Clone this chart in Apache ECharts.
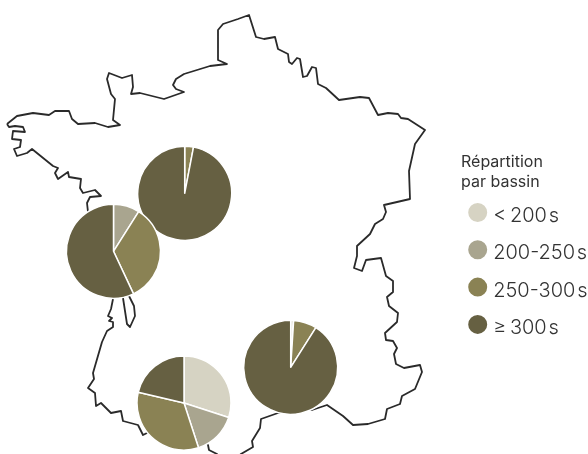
<!doctype html>
<html lang="fr">
<head>
<meta charset="utf-8" />
<title>Répartition par bassin</title>
<script src="https://cdn.jsdelivr.net/npm/echarts@6/dist/echarts.min.js"></script>
<style>
  html, body { margin: 0; padding: 0; background: #fff; }
  #main { width: 588px; height: 454px; }
</style>
</head>
<body>
<div id="main"></div>
<script>
// legend classes
var classes = ['<\u2009200\u200as', '200-250\u200as', '250-300\u200as', '\u2265\u2009300\u200as'];

// share of each class (%), clockwise from 12 o'clock
var bassinNord = [0, 0, 3, 97];
var bassinOuest = [0, 9, 34, 57];
var bassinSudOuest = [30, 15, 33.7, 21.3];
var bassinSudEst = [1, 0, 8, 91];

// outline of the country
var contour = [
  [7,124],[17,116],[33,113],[49,115],[55,111],[69,111],[72,119],[78,124],[95,123],[108,127],[120,125],[113,120],
  [115,99],[111,94],[107,79],[109,73],[122,78],[132,75],[133,87],[131,94],[140,93],[164,99],[184,92],[176,89],
  [173,85],[176,79],[184,74],[210,66],[227,64],[218,60],[218,30],[223,24],[238,19],[249,15],[256,37],[264,39],
  [275,37],[278,49],[288,54],[289,62],[292,64],[297,58],[300,59],[303,77],[307,76],[312,67],[316,68],[318,84],
  [326,88],[339,100],[360,97],[369,98],[378,115],[388,113],[398,114],[401,118],[408,119],[425,130],[415,144],
  [409,171],[410,199],[384,205],[386,212],[383,219],[375,224],[370,234],[357,246],[357,256],[359,258],[354,268],
  [362,271],[366,260],[381,258],[386,276],[393,281],[393,292],[387,297],[389,306],[398,313],[397,322],[385,333],
  [386,340],[393,341],[397,348],[394,354],[396,364],[404,368],[420,365],[422,372],[415,389],[402,396],[400,404],
  [387,409],[385,419],[368,424],[353,425],[343,416],[327,405],[312,410],[290,410],[278,413],[261,419],[260,428],
  [252,441],[253,447],[241,454],[232,462],[222,462],[217,454],[209,450],[208,445],[190,425],[147,433],[143,435],
  [138,425],[123,421],[121,411],[111,413],[101,403],[96,406],[95,393],[88,388],[94,379],[93,373],[102,342],
  [107,331],[113,327],[113,322],[109,321],[112,318],[108,316],[111,309],[113,299],[113,285],[120,285],[123,298],
  [127,324],[130,327],[135,316],[134,306],[129,296],[105,255],[88,212],[87,203],[90,197],[101,196],[95,190],
  [83,193],[80,188],[81,179],[69,177],[68,172],[58,179],[55,173],[58,168],[53,166],[32,149],[27,153],[17,156],
  [14,149],[20,147],[21,140],[12,139],[13,131],[25,132],[23,127],[15,126],[9,127],[7,124]
];

function camembert(values, center) {
  return {
    type: 'pie',
    center: center,
    radius: [0, 47],
    startAngle: 90,
    silent: true,
    z: 3,
    label: { show: false },
    labelLine: { show: false },
    itemStyle: { borderColor: '#fff', borderWidth: 1.5 },
    data: classes.map(function (c, i) { return { name: c, value: values[i] }; })
  };
}

var myChart = echarts.init(document.getElementById('main'));

myChart.setOption({
  animation: false,
  backgroundColor: '#fff',
  color: ['#d6d3c3', '#a9a58f', '#8a8254', '#666042'],
  title: {
    text: 'Répartition\npar bassin',
    left: 461,
    top: 152,
    padding: 0,
    textStyle: { fontFamily: 'Inter', fontWeight: 400, fontSize: 16, lineHeight: 20, color: '#333' }
  },
  legend: {
    orient: 'vertical',
    left: 466.2,
    top: 199,
    padding: 0,
    icon: 'circle',
    // circle is drawn at 0.8 of the item height
    itemWidth: 21,
    itemHeight: 25,
    itemGap: 10.3,
    selectedMode: false,
    data: classes,
    formatter: '{t|{name}}',
    // the top padding drops the text a little below the middle of its circle
    textStyle: {
      rich: {
        t: { fontFamily: 'Inter', fontWeight: 300, fontSize: 20, lineHeight: 18, color: '#333', padding: [7, 0, 0, 0] }
      }
    }
  },
  // 1 unit = 1 pixel, the outline lives on these hidden axes
  grid: { left: 0, right: 0, top: 0, bottom: 0 },
  xAxis: { type: 'value', min: 0, max: 588, show: false },
  yAxis: { type: 'value', min: 0, max: 454, inverse: true, show: false },
  series: [
    {
      type: 'line',
      data: contour,
      symbol: 'none',
      silent: true,
      z: 1,
      lineStyle: { color: '#2a2a2a', width: 1.8, join: 'round' }
    },
    camembert(bassinNord, [184.7, 193.3]),
    camembert(bassinOuest, [113.5, 251.3]),
    camembert(bassinSudOuest, [184, 403]),
    camembert(bassinSudEst, [290.7, 367.3])
  ]
});
</script>
</body>
</html>
